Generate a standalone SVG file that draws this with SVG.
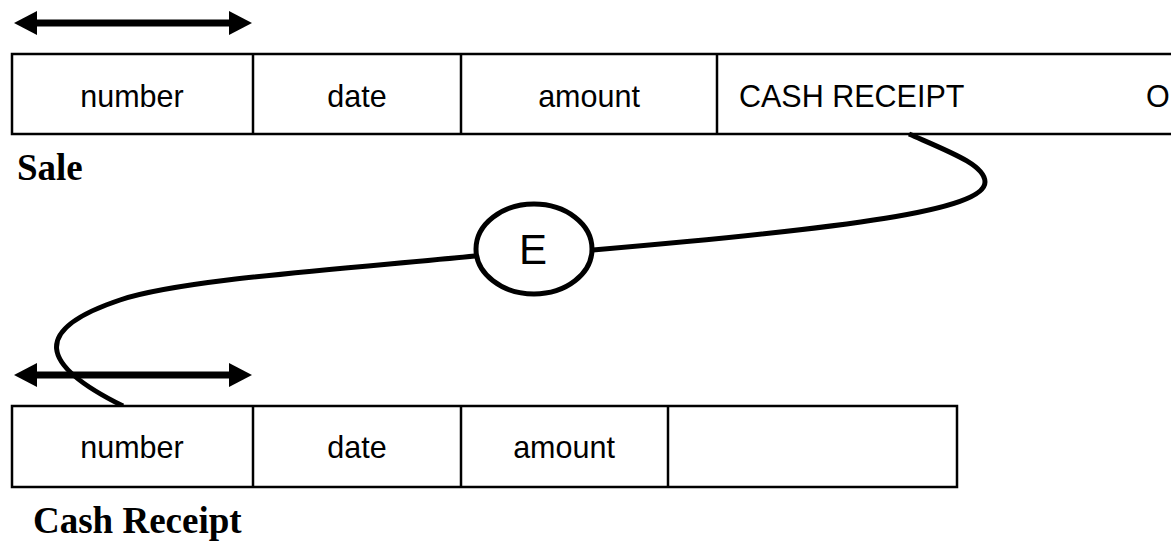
<svg xmlns="http://www.w3.org/2000/svg" width="1171" height="542" viewBox="0 0 1171 542">
<style>
.cell{fill:#fff;stroke:#000;stroke-width:2.5}
.div{stroke:#000;stroke-width:2.5}
.t{font-family:"Liberation Sans",Arial,sans-serif;font-size:30.5px;fill:#000}
.lbl{font-family:"Liberation Serif","Times New Roman",serif;font-size:37px;font-weight:bold;fill:#000}
.arr{stroke:#000;stroke-width:7}
.head{fill:#000}
.conn{fill:none;stroke:#000;stroke-width:5}
</style>
<rect width="1171" height="542" fill="#fff"/>
<g id="sale-arrow">
<line class="arr" x1="30" y1="23" x2="236" y2="23"/>
<polygon class="head" points="14,23 37,11 37,35"/>
<polygon class="head" points="252,23 229,11 229,35"/>
</g>
<g id="sale">
<rect class="cell" x="12" y="54" width="1170" height="80"/>
<line class="div" x1="253" y1="54" x2="253" y2="134"/>
<line class="div" x1="461" y1="54" x2="461" y2="134"/>
<line class="div" x1="717" y1="54" x2="717" y2="134"/>
<text class="t" x="132" y="107" text-anchor="middle">number</text>
<text class="t" x="357" y="107" text-anchor="middle">date</text>
<text class="t" x="589" y="107" text-anchor="middle">amount</text>
<text class="t" x="739" y="107">CASH RECEIPT</text>
<text class="t" x="1146" y="107">O</text>
<text class="lbl" x="17" y="180">Sale</text>
</g>
<g id="connectors">
<path class="conn" d="M909,134 C950,152 985,165 985,182 C985,210 850,228 593,250"/>
<path class="conn" d="M475,256 C330,270 180,280 120,300 C30,330 40,365 123,406"/>
</g>
<g id="E">
<ellipse cx="534" cy="249" rx="58" ry="45" fill="#fff" stroke="#000" stroke-width="5"/>
<text x="533" y="264" text-anchor="middle" font-family="Liberation Sans, Arial, sans-serif" font-size="42">E</text>
</g>
<g id="cash-arrow">
<line class="arr" x1="30" y1="375" x2="236" y2="375"/>
<polygon class="head" points="14,375 37,363 37,387"/>
<polygon class="head" points="252,375 229,363 229,387"/>
</g>
<g id="cash-receipt">
<rect class="cell" x="12" y="406" width="945" height="81"/>
<line class="div" x1="253" y1="406" x2="253" y2="487"/>
<line class="div" x1="461" y1="406" x2="461" y2="487"/>
<line class="div" x1="668" y1="406" x2="668" y2="487"/>
<text class="t" x="132" y="458" text-anchor="middle">number</text>
<text class="t" x="357" y="458" text-anchor="middle">date</text>
<text class="t" x="564" y="458" text-anchor="middle">amount</text>
<text class="lbl" x="33" y="533">Cash Receipt</text>
</g>
</svg>
